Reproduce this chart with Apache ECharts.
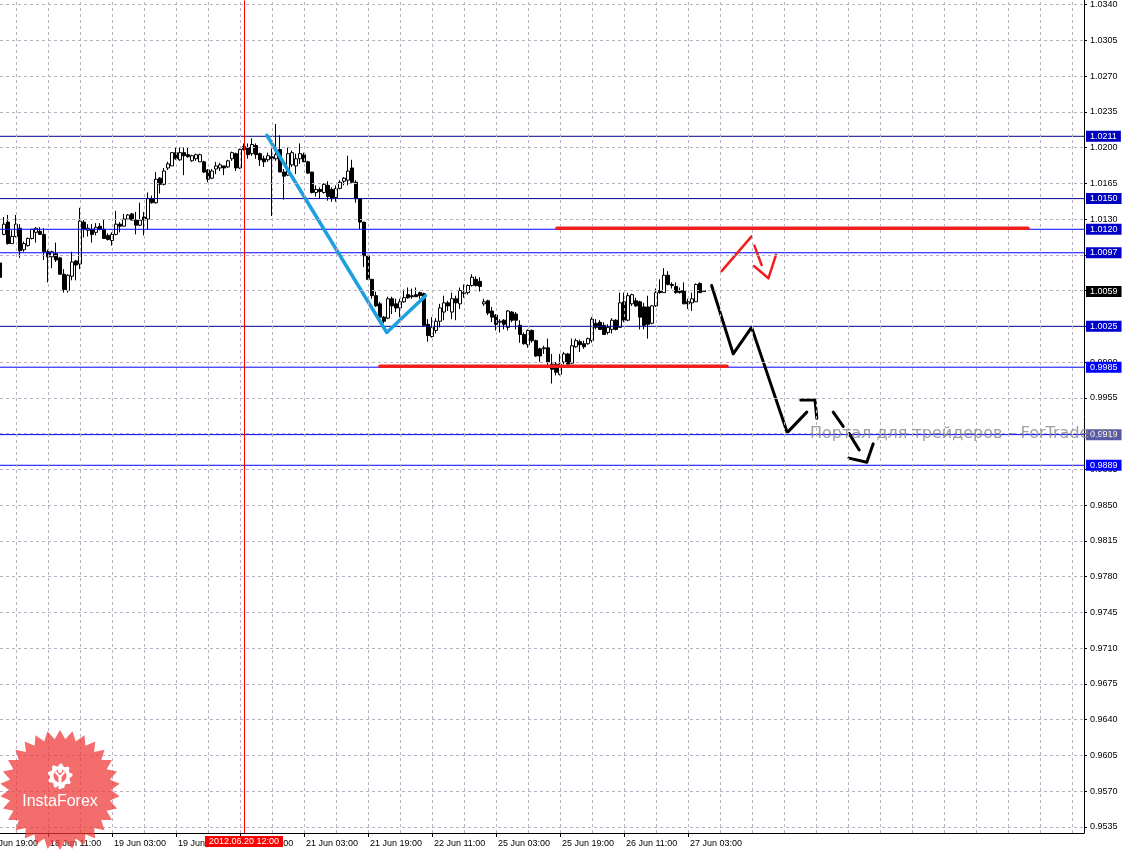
<!DOCTYPE html>
<html><head><meta charset="utf-8">
<script src="https://cdn.jsdelivr.net/npm/echarts@6/dist/echarts.min.js"></script>
<style>html,body{margin:0;padding:0;background:#fff}#c{width:1126px;height:850px}</style>
</head><body><div id="c"></div>
<script>
// ---- DATA (H1 bars, first bar = 17 Jun 23:00) ----
const opens=[1.0087,1.0115,1.0127,1.0106,1.0113,1.0121,1.0100,1.0104,1.0111,1.0117,1.0118,1.0115,1.0098,1.0093,1.0096,1.0092,1.0076,1.0060,1.0074,1.0089,
1.0086,1.0127,1.0119,1.0120,1.0117,1.0123,1.0120,1.0114,1.0109,1.0115,1.0125,1.0123,1.0130,1.0135,1.0129,1.0124,1.0132,1.0130,1.0150,1.0146,
1.0170,1.0164,1.0180,1.0182,1.0195,1.0188,1.0195,1.0193,1.0187,1.0189,1.0186,1.0186,1.0178,1.0170,1.0179,1.0180,1.0182,1.0181,1.0189,1.0194,
1.0180,1.0201,1.0200,1.0194,1.0202,1.0194,1.0189,1.0188,1.0191,1.0189,1.0198,1.0176,1.0173,1.0183,1.0182,1.0189,1.0193,1.0186,1.0176,1.0156,
1.0159,1.0156,1.0163,1.0159,1.0151,1.0160,1.0167,1.0168,1.0180,1.0166,1.0150,1.0127,1.0094,1.0071,1.0055,1.0047,1.0034,1.0033,1.0052,1.0047,
1.0043,1.0049,1.0056,1.0055,1.0056,1.0058,1.0057,1.0027,1.0015,1.0021,1.0030,1.0039,1.0048,1.0039,1.0052,1.0047,1.0057,1.0058,1.0065,1.0071,
1.0069,1.0047,1.0050,1.0040,1.0036,1.0029,1.0031,1.0024,1.0039,1.0037,1.0026,1.0017,1.0007,1.0021,1.0011,1.0003,1.0003,1.0004,0.9988,0.9988,
0.9978,0.9990,0.9998,0.9989,1.0005,1.0010,1.0008,1.0008,1.0011,1.0028,1.0029,1.0026,1.0019,1.0022,1.0031,1.0024,1.0049,1.0031,1.0047,1.0050,
1.0049,1.0044,1.0044,1.0028,1.0045,1.0060,1.0058,1.0075,1.0066,1.0064,1.0060,1.0060,1.0049,1.0048,1.0049,1.0067,1.0060];
const closes=[1.0073,1.0125,1.0106,1.0113,1.0125,1.0099,1.0106,1.0111,1.0120,1.0121,1.0115,1.0098,1.0093,1.0098,1.0090,1.0076,1.0061,1.0075,1.0088,1.0085,
1.0128,1.0120,1.0121,1.0115,1.0122,1.0120,1.0111,1.0110,1.0115,1.0125,1.0123,1.0130,1.0134,1.0129,1.0124,1.0129,1.0129,1.0150,1.0146,1.0169,
1.0164,1.0177,1.0184,1.0195,1.0189,1.0195,1.0192,1.0191,1.0192,1.0193,1.0193,1.0176,1.0169,1.0177,1.0182,1.0183,1.0180,1.0187,1.0195,1.0180,
1.0198,1.0198,1.0193,1.0203,1.0193,1.0188,1.0186,1.0192,1.0189,1.0193,1.0176,1.0172,1.0194,1.0195,1.0189,1.0194,1.0186,1.0175,1.0156,1.0159,
1.0157,1.0164,1.0152,1.0150,1.0160,1.0166,1.0170,1.0177,1.0166,1.0150,1.0127,1.0094,1.0071,1.0055,1.0045,1.0034,1.0030,1.0052,1.0045,1.0043,
1.0049,1.0053,1.0053,1.0054,1.0054,1.0055,1.0026,1.0016,1.0024,1.0030,1.0043,1.0048,1.0045,1.0052,1.0048,1.0060,1.0058,1.0065,1.0073,1.0065,
1.0064,1.0049,1.0038,1.0034,1.0027,1.0030,1.0027,1.0040,1.0031,1.0031,1.0017,1.0008,1.0021,1.0011,0.9996,0.9996,1.0004,0.9990,0.9983,0.9980,
0.9988,0.9998,0.9988,1.0006,1.0011,1.0007,1.0005,1.0013,1.0032,1.0024,1.0022,1.0017,1.0024,1.0031,1.0022,1.0048,1.0031,1.0055,1.0056,1.0045,
1.0034,1.0026,1.0027,1.0045,1.0058,1.0058,1.0075,1.0066,1.0065,1.0058,1.0058,1.0047,1.0047,1.0052,1.0066,1.0058,1.0059];
const lows=[1.0069,1.0114,1.0105,1.0106,1.0112,1.0092,1.0098,1.0103,1.0110,1.0107,1.0115,1.0090,1.0068,1.0082,1.0088,1.0076,1.0058,1.0058,1.0070,1.0070,
1.0081,1.0112,1.0113,1.0107,1.0114,1.0119,1.0111,1.0109,1.0104,1.0114,1.0117,1.0123,1.0129,1.0129,1.0115,1.0123,1.0114,1.0120,1.0145,1.0145,
1.0155,1.0163,1.0178,1.0182,1.0188,1.0187,1.0173,1.0190,1.0186,1.0187,1.0186,1.0175,1.0166,1.0169,1.0174,1.0177,1.0173,1.0180,1.0187,1.0177,
1.0179,1.0197,1.0189,1.0192,1.0189,1.0182,1.0181,1.0186,1.0133,1.0187,1.0176,1.0149,1.0172,1.0181,1.0174,1.0184,1.0186,1.0174,1.0155,1.0152,
1.0150,1.0155,1.0148,1.0147,1.0147,1.0159,1.0163,1.0163,1.0165,1.0146,1.0120,1.0083,1.0071,1.0052,1.0044,1.0029,1.0028,1.0032,1.0037,1.0039,
1.0034,1.0048,1.0052,1.0052,1.0054,1.0052,1.0025,1.0010,1.0014,1.0018,1.0024,1.0031,1.0040,1.0032,1.0031,1.0042,1.0053,1.0056,1.0064,1.0064,
1.0059,1.0045,1.0036,1.0029,1.0021,1.0019,1.0022,1.0021,1.0029,1.0022,1.0009,1.0007,1.0004,1.0009,0.9995,0.9990,0.9998,0.9987,0.9969,0.9977,
0.9977,0.9988,0.9988,0.9988,1.0004,1.0000,1.0003,1.0007,1.0009,1.0022,1.0022,1.0017,1.0017,1.0018,1.0021,1.0024,1.0029,1.0030,1.0045,1.0044,
1.0022,1.0022,1.0013,1.0027,1.0044,1.0057,1.0058,1.0065,1.0062,1.0057,1.0057,1.0047,1.0042,1.0040,1.0049,1.0058,1.0059];
const highs=[1.0090,1.0132,1.0134,1.0119,1.0134,1.0125,1.0108,1.0112,1.0120,1.0122,1.0122,1.0121,1.0100,1.0099,1.0107,1.0093,1.0081,1.0076,1.0098,1.0090,
1.0141,1.0129,1.0125,1.0125,1.0126,1.0126,1.0130,1.0116,1.0117,1.0138,1.0127,1.0135,1.0135,1.0136,1.0137,1.0146,1.0137,1.0156,1.0153,1.0176,
1.0171,1.0180,1.0186,1.0195,1.0200,1.0200,1.0200,1.0200,1.0193,1.0194,1.0194,1.0187,1.0179,1.0179,1.0186,1.0185,1.0182,1.0188,1.0196,1.0195,
1.0199,1.0204,1.0204,1.0209,1.0204,1.0195,1.0192,1.0195,1.0199,1.0223,1.0212,1.0179,1.0200,1.0197,1.0194,1.0204,1.0195,1.0187,1.0176,1.0163,
1.0161,1.0165,1.0167,1.0161,1.0163,1.0168,1.0171,1.0192,1.0188,1.0168,1.0150,1.0127,1.0095,1.0071,1.0059,1.0049,1.0035,1.0054,1.0054,1.0052,
1.0052,1.0061,1.0063,1.0062,1.0063,1.0059,1.0058,1.0032,1.0034,1.0033,1.0047,1.0055,1.0050,1.0058,1.0055,1.0063,1.0066,1.0066,1.0076,1.0074,
1.0073,1.0052,1.0051,1.0044,1.0037,1.0032,1.0032,1.0041,1.0040,1.0039,1.0031,1.0019,1.0022,1.0022,1.0012,1.0004,1.0006,1.0013,0.9998,0.9990,
0.9998,1.0000,0.9999,1.0013,1.0013,1.0012,1.0011,1.0014,1.0034,1.0032,1.0031,1.0029,1.0027,1.0033,1.0032,1.0058,1.0058,1.0058,1.0057,1.0053,
1.0050,1.0048,1.0055,1.0046,1.0062,1.0071,1.0082,1.0079,1.0068,1.0068,1.0063,1.0068,1.0052,1.0058,1.0067,1.0068,1.0060];

// time-axis tick labels (every 16 bars; the first one sits 4 bars before the first candle)
const tickLabels=['17 Jun 19:00','18 Jun 11:00','19 Jun 03:00','19 Jun 19:00','20 Jun 11:00','21 Jun 03:00','21 Jun 19:00','22 Jun 11:00','25 Jun 03:00','25 Jun 19:00','26 Jun 11:00','27 Jun 03:00'];
const yTicks=[0.9535,0.9570,0.9605,0.9640,0.9675,0.9710,0.9745,0.9780,0.9815,0.9850,0.9885,0.9920,0.9955,0.9990,1.0025,1.0060,1.0095,1.0130,1.0165,1.0200,1.0235,1.0270,1.0305,1.0340];
const levels=[1.0211,1.0150,1.0120,1.0097,1.0025,0.9985,0.9919,0.9889];
const lastPrice=1.0059;
const markerBar=61; const markerLabel='2012.06.20 12:00';

// drawn objects: [bar index, price]
const blueZigzag=[[66.7,1.0212],[96.7,1.0019],[106.4,1.0055]];
const redResistance=[[139.25,1.0121],[257,1.0121]];
const redSupport=[[95,0.9986],[181.75,0.9986]];
const redUp=[[180.4,1.0079],[187.9,1.0113]];
const redDash1=[[188.6,1.0104],[190.4,1.0085]];
const redDash2=[[188.5,1.0084],[192.1,1.0072],[194.0,1.0095]];
const blackPath=[[177.9,1.0065],[183.3,0.9998],[187.9,1.0024],[196.8,0.9921],[201.7,0.9941]];
const blackDash1=[[200.2,0.9953],[203.75,0.9953],[204.2,0.9935]];
const blackDash2=[[208.3,0.9941],[210.8,0.9927]];
const blackDash3=[[212.3,0.9920],[214.8,0.9904]];
const blackDash4=[[212.25,0.9896],[216.7,0.9892],[218.3,0.9910]];

// ---- STYLE / LAYOUT ----
const FONT='"Liberation Sans", Arial, sans-serif';
const NCAT=272, FIRST_LABEL_BAR=-4;
const levelLine=['#000090','#000090','#0000ff','#0000ff','#000090','#0000ff','#0000ff','#0000ff'];
const levelBox=['#0000c0','#0000c0','#0000c8','#0000c8','#0000d0','#0000ff','#5858a8','#0000ff'];

const cats=Array.from({length:NCAT},(_,j)=>String(j));
const labelAt={}; tickLabels.forEach((t,k)=>{const b=FIRST_LABEL_BAR+k*16; if(b>=0) labelAt[b]=t;});
const showLab=(idx)=>labelAt[idx]!==undefined;
const candles=opens.map((o,i)=>[o,closes[i],lows[i],highs[i]]);
const gridBars=[]; for(let b=4;b<NCAT;b+=8) gridBars.push(b);
const gridY=yTicks.filter(t=>!levels.some(l=>Math.abs(l-t)<0.00005));

function seg(data,color,width,z){return {type:'line',xAxisIndex:1,yAxisIndex:0,data:data,symbol:'none',silent:true,z:z||4,
  lineStyle:{color:color,width:width,cap:'round',join:'round'},animation:false};}
const boxLabel=(text,bg,pos)=>({show:true,position:pos,distance:2,formatter:text,color:'#fff',backgroundColor:bg,
  padding:[1,4,0,4],fontSize:9,fontFamily:FONT,lineHeight:10});

const labelItems=levels.map((v,k)=>({yAxis:v,lineStyle:{color:'rgba(0,0,0,0)',width:0},label:boxLabel(v.toFixed(4),levelBox[k],'end')}));
labelItems.push({yAxis:lastPrice,lineStyle:{color:'rgba(0,0,0,0)',width:0},label:boxLabel(lastPrice.toFixed(4),'#000','end')});
labelItems.push({xAxis:markerBar,lineStyle:{color:'#ff0000',width:1,type:'solid'},label:Object.assign(boxLabel(markerLabel,'#ff0000','start'),{distance:3})});
const levelSeries=levels.map((v,k)=>seg([[0,v],[NCAT-1,v]],levelLine[k],1,3));

// logo geometry
const star=[]; {const cx=60,cy=790,R=60,r=51,n=30;
 for(let k=0;k<2*n;k++){const a=-Math.PI/2+k*Math.PI/n;const rr=k%2===0?R:r;star.push([cx+rr*Math.cos(a),cy+rr*Math.sin(a)]);}}
const gear=[]; {const cx=60,cy=776,n=9;
 for(let k=0;k<4*n;k++){const a=-Math.PI/2+k*Math.PI/(2*n);const rr=(k%4<2)?12.5:10;gear.push([cx+rr*Math.cos(a),cy+rr*Math.sin(a)]);}}

const chart=echarts.init(document.getElementById('c'),null,{renderer:'canvas'});
chart.setOption({
  animation:false,
  backgroundColor:'#fff',
  grid:{left:0,right:42,top:0,bottom:17,containLabel:false},
  xAxis:[{type:'category',data:cats,boundaryGap:false,
     axisLine:{show:true,lineStyle:{color:'#000',width:1}},
     axisTick:{show:true,interval:showLab,length:4,lineStyle:{color:'#000'}},
     axisLabel:{show:true,interval:showLab,formatter:(v,idx)=>labelAt[idx]||'',align:'left',padding:[0,0,0,2],margin:6,
        fontSize:9,fontFamily:FONT,color:'#000'},
     splitLine:{show:false}},
    {type:'value',min:0,max:NCAT-1,show:false}],
  yAxis:{type:'value',position:'right',min:0.95291,max:1.03439,scale:true,
     axisLine:{show:true,onZero:false,lineStyle:{color:'#000',width:1}},
     axisTick:{show:true,customValues:yTicks,length:3,lineStyle:{color:'#000'}},
     axisLabel:{show:true,customValues:yTicks,formatter:v=>v.toFixed(4),margin:6,fontSize:9,fontFamily:FONT,color:'#000'},
     splitLine:{show:false}},
  series:[
    {type:'line',xAxisIndex:1,yAxisIndex:0,data:[[-100,null]],symbol:'none',silent:true,z:1,
      markLine:{silent:true,symbol:'none',animation:false,precision:6,label:{show:false},
        lineStyle:{color:'#b9b1c2',width:1,type:[3,3]},
        data:[...gridY.map(v=>({yAxis:v})),...gridBars.map(b=>({xAxis:b}))]}},
    {type:'candlestick',xAxisIndex:0,yAxisIndex:0,data:candles,barWidth:3,z:2,silent:true,
      itemStyle:{color:'#fff',color0:'#000',borderColor:'#000',borderColor0:'#000',borderColorDoji:'#000',borderWidth:1}},
    ...levelSeries,
    {type:'line',xAxisIndex:1,yAxisIndex:0,data:[[-100,null]],symbol:'none',silent:true,z:3,
      markLine:{silent:true,symbol:'none',animation:false,precision:6,data:labelItems}},
    seg(blueZigzag,'#1e9fe0',3.5),
    seg(redResistance,'#f01e1e',3.5),
    seg(redSupport,'#f01e1e',3.5),
    seg(redUp,'#f01e1e',2.5),
    seg(redDash1,'#f01e1e',2.5),
    seg(redDash2,'#f01e1e',2.5),
    seg(blackPath,'#000',3),
    seg(blackDash1,'#000',3),
    seg(blackDash2,'#000',3),
    seg(blackDash3,'#000',3),
    seg(blackDash4,'#000',3)
  ],
  graphic:[
    {type:'text',z:5,silent:true,style:{text:tickLabels[0],x:FIRST_LABEL_BAR*4+2,y:839,align:'left',verticalAlign:'top',
      font:'9px "Liberation Sans", Arial, sans-serif',fill:'#000'}},
    {type:'text',left:810,top:426,z:100,silent:true,
      style:{text:'Портал для трейдеров – ForTrader.ru',font:'16px "DejaVu Sans", sans-serif',fill:'rgba(135,135,135,0.8)'}},
    {type:'polygon',z:110,silent:true,shape:{points:star},style:{fill:'#ee3535',opacity:0.72}},
    {type:'polygon',z:111,silent:true,shape:{points:gear},style:{fill:'#fff'}},
    {type:'circle',z:112,silent:true,shape:{cx:60,cy:776,r:6.5},style:{fill:'#f26a6a'}},
    {type:'circle',z:113,silent:true,shape:{cx:60,cy:771,r:2},style:{fill:'#fff'}},
    {type:'polyline',z:113,silent:true,shape:{points:[[55.5,772],[60,777],[64.5,772]]},style:{stroke:'#fff',lineWidth:2,fill:null}},
    {type:'rect',z:113,silent:true,shape:{x:58.5,y:776,width:3,height:13},style:{fill:'#fff'}},
    {type:'text',z:114,silent:true,style:{text:'InstaForex',x:60,y:802,align:'center',verticalAlign:'middle',
      font:'16px "Liberation Sans", Arial, sans-serif',fill:'#fff'}}
  ]
});
</script></body></html>
